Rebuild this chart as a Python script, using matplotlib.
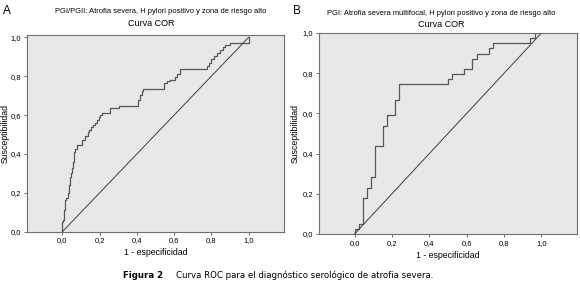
import numpy as np
import matplotlib
matplotlib.use("Agg")
import matplotlib.pyplot as plt

plt.rcParams['font.family'] = ['Liberation Sans', 'DejaVu Sans']

# panel A: PGI/PGII
fpr_a = [0, 0, 0.005, 0.008, 0.012, 0.02, 0.028, 0.035, 0.04, 0.045, 0.052,
         0.058, 0.062, 0.07, 0.08, 0.108, 0.123, 0.137, 0.145, 0.155, 0.165,
         0.173, 0.185, 0.194, 0.2, 0.212, 0.257, 0.305, 0.405, 0.415, 0.425,
         0.435, 0.547, 0.56, 0.58, 0.604, 0.615, 0.63, 0.774, 0.785, 0.8,
         0.815, 0.83, 0.845, 0.86, 0.875, 0.898, 1.0]
tpr_a = [0, 0.05, 0.06, 0.11, 0.165, 0.175, 0.2, 0.24, 0.28, 0.3, 0.33,
         0.36, 0.41, 0.425, 0.445, 0.472, 0.492, 0.514, 0.525, 0.54, 0.55,
         0.561, 0.575, 0.588, 0.6, 0.609, 0.635, 0.647, 0.68, 0.705, 0.725,
         0.734, 0.763, 0.775, 0.78, 0.795, 0.81, 0.835, 0.852, 0.87, 0.89,
         0.905, 0.92, 0.935, 0.948, 0.96, 0.972, 1.0]

# panel B: PGI
fpr_b = [0, 0, 0.022, 0.043, 0.065, 0.086, 0.108, 0.151, 0.173, 0.215, 0.24,
         0.5, 0.524, 0.586, 0.629, 0.653, 0.719, 0.742, 0.939, 0.963, 1.0]
tpr_b = [0, 0.026, 0.051, 0.179, 0.231, 0.282, 0.436, 0.538, 0.590, 0.667,
         0.744, 0.769, 0.795, 0.821, 0.872, 0.897, 0.923, 0.949, 0.974, 1.0, 1.0]

ticks = [0.0, 0.2, 0.4, 0.6, 0.8, 1.0]
tick_labels = ['0,0', '0,2', '0,4', '0,6', '0,8', '1,0']

W, H = 580, 285

# letter, subtitle, data, axes box (px), ylim top, letter x, subtitle (x, y), title (x, y), ylabel x
panels = [
    ('A', 'PGI/PGII: Atrofia severa, H pylori positivo y zona de riesgo alto',
     fpr_a, tpr_a, (27, 35, 284, 231.7), 1.012, 3, (161, 11.5), (151, 24), 10),
    ('B', 'PGI: Atrofia severa multifocal, H pylori positivo y zona de riesgo alto',
     fpr_b, tpr_b, (319, 33, 577, 234), 1.0, 293, (441, 13.5), (441.5, 24.5), 300),
]

fig = plt.figure(figsize=(W / 100, H / 100), dpi=100)

for letter, subtitle, fpr, tpr, box, ytop, lx, sub_xy, tit_xy, ylx in panels:
    left, top, right, bottom = box
    ax = fig.add_axes([left / W, 1 - bottom / H, (right - left) / W, (bottom - top) / H])
    ax.set_facecolor('#e8e8e8')
    ax.step(fpr, tpr, where='post', color='#585858', lw=0.9)
    ax.plot([0, 1], [0, 1], color='#404040', lw=0.7)
    ax.set_xlim(-0.19, 1.19)
    ax.set_ylim(0, ytop)
    ax.set_xticks(ticks)
    ax.set_xticklabels(tick_labels)
    ax.set_yticks(ticks)
    ax.set_yticklabels(tick_labels)
    ax.tick_params(labelsize=5.5, length=2.5, width=0.6, color='#555555', pad=1.5)
    for s in ax.spines.values():
        s.set_color('#707070')
        s.set_linewidth(0.8)
    ax.set_xlabel('1 - especificidad', fontsize=6.3, labelpad=3)
    ax.set_ylabel('Susceptibilidad', fontsize=6.3)
    ax.yaxis.set_label_coords((ylx - left) / (right - left), 0.5)
    fig.text(lx / W, 1 - 11 / H, letter, fontsize=8.5, ha='left', va='center')
    fig.text(sub_xy[0] / W, 1 - sub_xy[1] / H, subtitle, fontsize=5.4,
             ha='center', va='center')
    fig.text(tit_xy[0] / W, 1 - tit_xy[1] / H, 'Curva COR', fontsize=6.5,
             ha='center', va='center')

fig.text(123 / W, 1 - 275 / H, 'Figura 2', fontsize=6.2, fontweight='bold',
         family='DejaVu Sans', ha='left', va='center')
fig.text(176 / W, 1 - 275 / H,
         'Curva ROC para el diagnóstico serológico de atrofia severa.',
         fontsize=6.2, family='DejaVu Sans', ha='left', va='center')

fig.savefig('out.png', dpi=100)
